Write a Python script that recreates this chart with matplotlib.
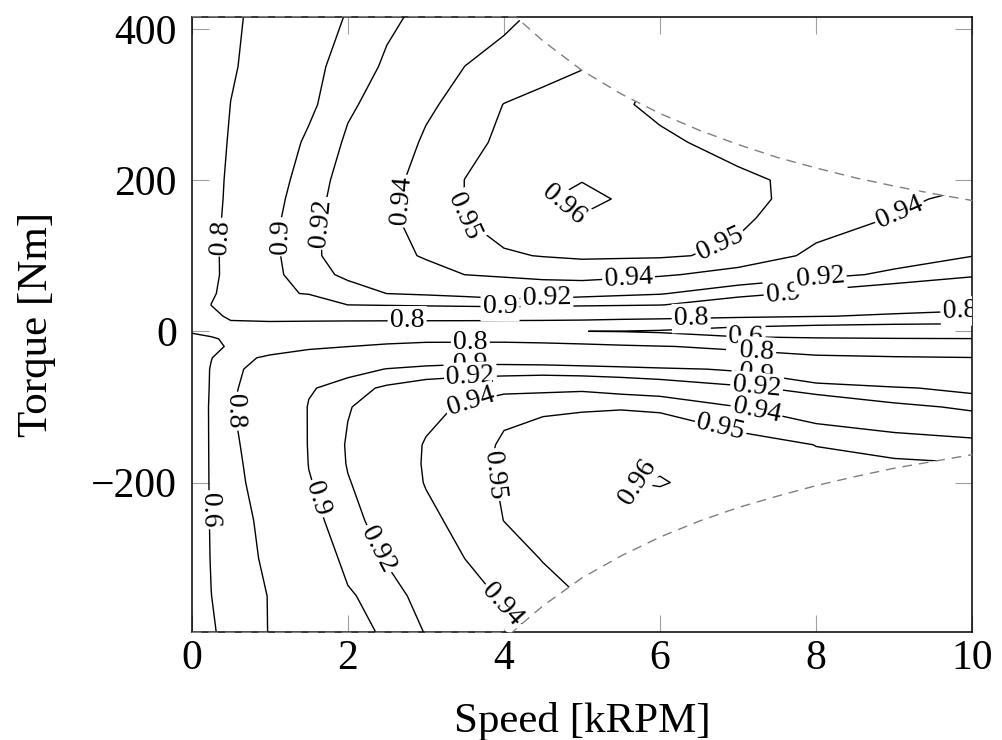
import numpy as np
import matplotlib
matplotlib.use("Agg")
import matplotlib.pyplot as plt
from matplotlib.patches import Polygon

# efficiency map (speed in kRPM, torque in Nm)
speed = [0, 0.25, 0.5, 1, 1.5, 2, 2.5, 3, 3.5, 4, 4.5, 5, 5.5, 6, 7, 8, 9, 10]
torque = [416, 350, 300, 250, 200, 175, 150, 100, 75, 50, 35, 20, 10, 0,
          -10, -20, -35, -50, -75, -100, -150, -175, -200, -250, -300, -350, -398]

eff_p416 = [0.700, 0.742, 0.785, 0.831, 0.875, 0.903, 0.916, 0.925, 0.932, 0.938, 0.942, 0.945, 0.945, 0.945, 0.945, 0.945, 0.945, 0.945]
eff_p350 = [0.700, 0.745, 0.791, 0.839, 0.893, 0.909, 0.923, 0.9315, 0.9401, 0.9433, 0.9465, 0.9496, 0.952, 0.9495, 0.946, 0.945, 0.945, 0.945]
eff_p300 = [0.700, 0.751, 0.801, 0.848, 0.895, 0.917, 0.928, 0.938, 0.944, 0.9502, 0.953, 0.954, 0.951, 0.948, 0.945, 0.945, 0.945, 0.945]
eff_p250 = [0.700, 0.761, 0.809, 0.884, 0.904, 0.923, 0.933, 0.9416, 0.9476, 0.9516, 0.9543, 0.957, 0.9543, 0.9516, 0.9471, 0.945, 0.945, 0.945]
eff_p200 = [0.700, 0.769, 0.816, 0.889, 0.910, 0.928, 0.9366, 0.944, 0.9501, 0.9533, 0.9565, 0.9598, 0.9578, 0.9557, 0.9516, 0.9477, 0.9443, 0.942]
eff_p175 = [0.700, 0.772, 0.818, 0.8917, 0.9125, 0.929, 0.9373, 0.9443, 0.9501, 0.9548, 0.9595, 0.9615, 0.9595, 0.957, 0.9521, 0.9472, 0.9424, 0.937]
eff_p150 = [0.700, 0.776, 0.821, 0.8936, 0.915, 0.931, 0.938, 0.9444, 0.9501, 0.9532, 0.9564, 0.9596, 0.9575, 0.9554, 0.9513, 0.9457, 0.9395, 0.932]
eff_p100 = [0.700, 0.783, 0.824, 0.8942, 0.915, 0.930, 0.9349, 0.9415, 0.9454, 0.9492, 0.9503, 0.9508, 0.951, 0.951, 0.9485, 0.9371, 0.9288, 0.9205]
eff_p75 = [0.700, 0.783, 0.8227, 0.8933, 0.912, 0.924, 0.9281, 0.9342, 0.9401, 0.9422, 0.9444, 0.9465, 0.9442, 0.9419, 0.9348, 0.9261, 0.9163, 0.904]
eff_p50 = [0.700, 0.7926, 0.8207, 0.8934, 0.9021, 0.9111, 0.9201, 0.922, 0.924, 0.926, 0.928, 0.9258, 0.9236, 0.9213, 0.9083, 0.894, 0.882, 0.870]
eff_p35 = [0.700, 0.8007, 0.817, 0.843, 0.8716, 0.9001, 0.903, 0.906, 0.909, 0.912, 0.9093, 0.9065, 0.9038, 0.9011, 0.882, 0.862, 0.855, 0.845]
eff_p20 = [0.700, 0.786, 0.809, 0.830, 0.8325, 0.835, 0.8375, 0.840, 0.8392, 0.8383, 0.8375, 0.8367, 0.8358, 0.835, 0.825, 0.805, 0.785, 0.760]
eff_p10 = [0.700, 0.780, 0.793, 0.787, 0.783, 0.779, 0.776, 0.7733, 0.773, 0.772, 0.770, 0.765, 0.750, 0.735, 0.675, 0.640, 0.615, 0.598]
eff_0 = [0.700, 0.720, 0.740, 0.750, 0.750, 0.748, 0.745, 0.740, 0.730, 0.710, 0.680, 0.601, 0.595, 0.580, 0.500, 0.440, 0.400, 0.360]
eff_n10 = [0.300, 0.550, 0.680, 0.740, 0.755, 0.760, 0.770, 0.775, 0.775, 0.775, 0.765, 0.740, 0.715, 0.695, 0.640, 0.625, 0.615, 0.610]
eff_n20 = [0.350, 0.500, 0.650, 0.740, 0.780, 0.799, 0.815, 0.830, 0.832, 0.832, 0.831, 0.830, 0.818, 0.805, 0.780, 0.740, 0.710, 0.690]
eff_n35 = [0.350, 0.590, 0.760, 0.820, 0.855, 0.872, 0.880, 0.886, 0.886, 0.884, 0.880, 0.876, 0.869, 0.862, 0.840, 0.818, 0.810, 0.803]
eff_n50 = [0.350, 0.622, 0.780, 0.840, 0.870, 0.890, 0.9009, 0.9055, 0.910, 0.911, 0.912, 0.910, 0.908, 0.9045, 0.897, 0.862, 0.845, 0.834]
eff_n75 = [0.350, 0.629, 0.790, 0.841, 0.897, 0.912, 0.9234, 0.932, 0.934, 0.936, 0.937, 0.938, 0.9355, 0.933, 0.9237, 0.9137, 0.9032, 0.893]
eff_n100 = [0.350, 0.640, 0.795, 0.852, 0.902, 0.919, 0.928, 0.9366, 0.9416, 0.9485, 0.9490, 0.9492, 0.9494, 0.9490, 0.9402, 0.9323, 0.9246, 0.917]
eff_n150 = [0.350, 0.637, 0.785, 0.847, 0.902, 0.9216, 0.9316, 0.9409, 0.9467, 0.9509, 0.9529, 0.955, 0.957, 0.9555, 0.955, 0.9498, 0.9474, 0.945]
eff_n175 = [0.350, 0.635, 0.780, 0.8435, 0.9009, 0.921, 0.9316, 0.9412, 0.9473, 0.9513, 0.9537, 0.9561, 0.9585, 0.9588, 0.955, 0.952, 0.951, 0.9502]
eff_n200 = [0.350, 0.633, 0.775, 0.840, 0.898, 0.919, 0.9303, 0.9407, 0.9462, 0.9509, 0.9538, 0.9568, 0.9597, 0.9606, 0.956, 0.953, 0.952, 0.952]
eff_n250 = [0.350, 0.625, 0.760, 0.828, 0.890, 0.915, 0.9265, 0.9367, 0.9441, 0.9501, 0.9517, 0.9533, 0.955, 0.955, 0.954, 0.954, 0.954, 0.954]
eff_n300 = [0.350, 0.616, 0.755, 0.818, 0.870, 0.910, 0.9213, 0.9307, 0.9401, 0.9463, 0.9504, 0.9512, 0.9521, 0.953, 0.953, 0.953, 0.953, 0.953]
eff_n350 = [0.350, 0.597, 0.730, 0.805, 0.853, 0.896, 0.914, 0.9254, 0.9341, 0.9417, 0.9469, 0.9503, 0.952, 0.952, 0.952, 0.952, 0.952, 0.952]
eff_n398 = [0.350, 0.558, 0.720, 0.8046, 0.843, 0.8815, 0.9073, 0.9208, 0.9285, 0.9362, 0.9417, 0.945, 0.945, 0.945, 0.945, 0.945, 0.945, 0.945]

eff_rows = [eff_p416, eff_p350, eff_p300, eff_p250, eff_p200, eff_p175, eff_p150,
            eff_p100, eff_p75, eff_p50, eff_p35, eff_p20, eff_p10, eff_0,
            eff_n10, eff_n20, eff_n35, eff_n50, eff_n75, eff_n100, eff_n150,
            eff_n175, eff_n200, eff_n250, eff_n300, eff_n350, eff_n398]

levels = [0.6, 0.8, 0.9, 0.92, 0.94, 0.95, 0.96]

# torque limit (dashed)
env_speed_top = [0, 4.15, 4.5, 5, 5.5, 6, 6.5, 7, 7.5, 8, 8.5, 9, 9.5, 10]
env_top = [416, 416, 384, 345, 314, 288, 266, 247, 230, 216, 203, 192, 182, 173]
env_speed_bot = [0, 4.1, 4.5, 5, 5.5, 6, 6.5, 7, 7.5, 8, 8.5, 9, 9.5, 10]
env_bot = [-398, -398, -363, -326, -297, -272, -251, -233, -218, -204, -192, -181, -172, -163]

# where the labels sit
label_spots = {
    0.6: [(0.17, -236), (7.1, -6)],
    0.8: [(0.3, 125), (2.76, 13), (6.4, 13), (9.84, 26), (0.53, -106), (3.57, -15), (7.24, -24)],
    0.9: [(1.15, 125), (3.95, 28), (7.58, 46), (1.56, -223), (3.57, -33), (7.24, -47)],
    0.92: [(1.6, 143), (4.55, 40), (8.05, 73), (2.37, -289), (3.57, -57), (7.24, -70)],
    0.94: [(2.6, 174), (5.6, 64), (9.07, 157), (3.95, -364), (3.57, -90), (7.24, -103)],
    0.95: [(3.44, 152), (6.8, 108), (3.8, -192), (6.8, -117)],
    0.96: [(4.8, 174), (5.7, -196)],
}

plt.rcParams['font.family'] = ['Liberation Serif', 'DejaVu Serif']

fig = plt.figure(figsize=(10.03, 7.40), dpi=100)
ax = fig.add_axes([0.1911, 0.1455, 0.7783, 0.8319])

S = np.array(speed)
T = np.array(torque)[::-1]
Z = np.array(eff_rows)[::-1]

bound = np.column_stack([np.r_[env_speed_top, env_speed_bot[::-1]],
                         np.r_[env_top, env_bot[::-1]]])
clip = Polygon(bound, closed=True, facecolor='none', edgecolor='none',
               transform=ax.transData)
ax.add_patch(clip)

# one contour set per level so each gets its own labels
for lev in levels:
    cs = ax.contour(S, T, Z, levels=[lev], colors='k', linewidths=1.0)
    cs.set_clip_path(clip)
    texts = ax.clabel(cs, manual=label_spots[lev], inline=False,
                      fontsize=20, fmt=lambda v: f'{v:g}', colors='k')
    for t in texts:
        t.set_bbox(dict(boxstyle='square,pad=0.08', fc='white', ec='none'))

ax.plot(env_speed_top, env_top, color='#808080', lw=1.0, ls=(0, (7, 5)),
        clip_on=False, zorder=3)
ax.plot(env_speed_bot, env_bot, color='#808080', lw=1.0, ls=(0, (7, 5)),
        clip_on=False, zorder=3)

ax.set_xlim(0, 10)
ax.set_ylim(-398, 416)
ax.set_xticks([0, 2, 4, 6, 8, 10])
ax.set_yticks([-200, 0, 200, 400])
ax.tick_params(direction='in', length=12, width=0.8, color='#a0a0a0',
               top=True, right=True, labelsize=30)
ax.tick_params(axis='x', pad=5)
ax.tick_params(axis='y', pad=10.5)
for sp in ax.spines.values():
    sp.set_linewidth(1.1)

ax.set_xlabel('Speed [kRPM]', fontsize=31)
ax.set_ylabel('Torque [Nm]', fontsize=31)
ax.xaxis.set_label_coords(0.5, -0.113)
ax.yaxis.set_label_coords(-0.174, 0.5)

fig.savefig('out.png', dpi=100)
